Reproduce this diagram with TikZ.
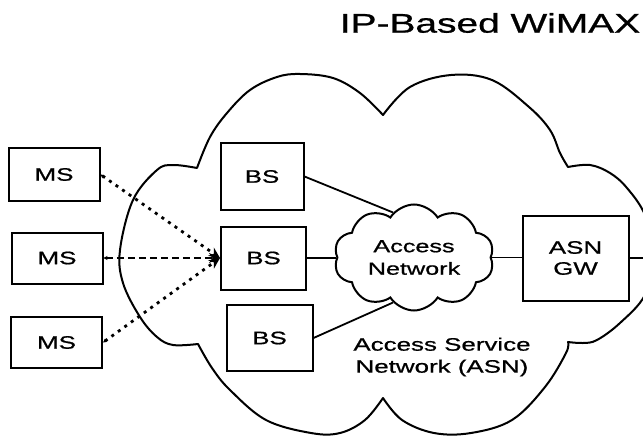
\documentclass[tikz,border=0pt]{standalone}
\usepackage{fontspec}
\setmainfont{Liberation Sans}[FakeStretch=1.44, FakeBold=0.8]
\usetikzlibrary{shapes.symbols,arrows.meta}

\begin{document}
\begin{tikzpicture}[x=1pt,y=-1pt,
  box/.style={draw, line width=2pt, inner sep=0pt, align=center,
    font=\fontsize{18}{21}\selectfont},
  link/.style={line width=1.8pt},
  radio/.style={line width=2.8pt,
    {Stealth[length=4pt,width=4pt]}-{Stealth[length=11pt,width=10pt]}},
  dotlink/.style={radio, dash pattern=on 3pt off 5pt},
  dashlink/.style={radio, dash pattern=on 7pt off 4pt},
  lobe/.style={smooth, tension=0.6},
]
\useasboundingbox (0,0) rectangle (643,436);
\clip (0,0) rectangle (643,436);

% title
\node[font=\fontsize{27}{30}\selectfont] (title) at (490,23) {IP-Based WiMAX};

% outer ASN cloud, one smooth lobe between each pair of notches
\draw[line width=2pt, line join=round]
  plot[lobe] coordinates {(198,344) (173,345) (157,337) (140,317) (123,283)
    (120,250) (133,200) (157,170) (173,165) (197,168)}
  -- plot[lobe] coordinates {(197,168) (210,137) (227,113) (250,90) (277,77)
    (300,74) (333,78) (360,93) (383,115)}
  -- plot[lobe] coordinates {(383,115) (410,87) (451,75) (492,80) (529,107)
    (550,130) (560,153) (568,167)}
  -- plot[lobe] coordinates {(568,167) (590,165) (610,173) (627,188) (645,215)
    (655,255) (645,295) (620,323) (597,340) (583,343) (568,342)}
  -- plot[lobe] coordinates {(568,342) (566,353) (545,387) (512,420) (471,433)
    (434,433) (402,420) (383,398)}
  -- plot[lobe] coordinates {(383,398) (365,420) (340,433) (311,433) (266,420)
    (230,390) (212,368) (198,344)} -- cycle;

% mobile stations
\node[box, minimum width=91pt, minimum height=53pt] (ms1) at (54,174.5) {MS};
\node[box, minimum width=91pt, minimum height=51pt] (ms2) at (57,258) {MS};
\node[box, minimum width=91pt, minimum height=51pt] (ms3) at (56.5,342.5) {MS};

% base stations
\node[box, minimum width=83pt, minimum height=67pt] (bs1) at (262,176.5) {BS};
\node[box, minimum width=85pt, minimum height=63pt] (bs2) at (263.5,258) {BS};
\node[box, minimum width=86pt, minimum height=66pt] (bs3) at (269.5,338) {BS};

% access network cloud
\node[cloud, cloud puffs=10, cloud puff arc=115, cloud ignores aspect,
  draw, line width=2pt, inner sep=0pt, minimum width=160pt,
  minimum height=106pt, align=center,
  font=\fontsize{17.5}{22.5}\selectfont] (acc) at (414,257.5)
  {Access\\Network};

% gateway
\node[box, minimum width=106pt, minimum height=85pt] (gw) at (575.5,258)
  {ASN\\GW};

\coordinate (edge) at (643,258);

% label of the outer cloud
\node[align=center, font=\fontsize{18}{22}\selectfont] (asn) at (442,357)
  {Access Service\\Network (ASN)};

% wired links
\draw[link] (bs1.east) -- (acc.115);
\draw[link] (bs2.east) -- (bs2.east -| acc.west);
\draw[link] (bs3.east) -- (acc.245);
\draw[link] (acc.east) -- (acc.east -| gw.west);
\draw[link] (gw.east) -- (edge);

% radio links
\draw[dotlink] (ms1.east) -- (bs2.west);
\draw[dashlink] (ms2.east) -- (bs2.west);
\draw[dotlink] (ms3.east) -- (bs2.west);
\end{tikzpicture}
\end{document}
